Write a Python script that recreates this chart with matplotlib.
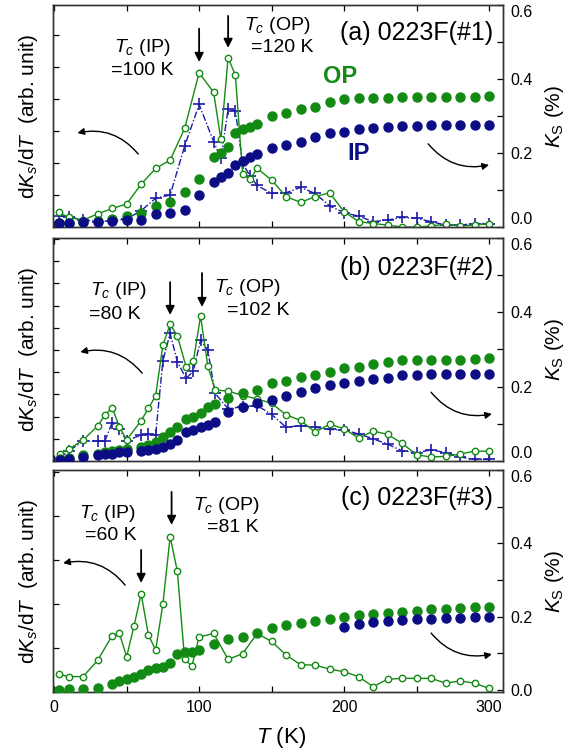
import matplotlib
matplotlib.use('Agg')
import matplotlib.pyplot as plt
from matplotlib.ticker import MultipleLocator, NullFormatter

plt.rcParams['font.family'] = ['Liberation Sans', 'DejaVu Sans']
plt.rcParams['mathtext.fontset'] = 'custom'
plt.rcParams['mathtext.rm'] = 'Liberation Sans'
plt.rcParams['mathtext.it'] = 'Liberation Sans:italic'

GREEN = '#138a13'
NAVY = '#0c0c85'
CROSS = '#1c1ca8'

# ---- panel (a) 0223F(#1) ----
T_a_d = [3, 10, 20, 30, 40, 50, 60, 70, 80, 90, 100, 110, 115, 120, 125, 130, 135, 140,
         150, 160, 170, 180, 190, 200, 210, 220, 230, 240, 250, 260, 270, 280, 290, 300]
op_a_d = [0.46, 0.3, 0.22, 0.41, 0.58, 0.72, 1.34, 1.83, 2.09, 3.08, 4.82, 4.21, 2.74, 5.29, 4.75,
          1.66, 1.49, 1.83, 1.47, 0.95, 0.77, 0.95, 1.07, 0.48, 0.17, 0.11, 0.06, 0.0, 0.0, 0.03,
          0.09, 0.03, 0.06, 0.11]
ip_a_d = [0.34, 0.32, 0.22, 0.17, 0.2, 0.25, 0.51, 0.9, 1.0, 2.53, 3.83, 2.67, 2.15, 3.68, 3.63,
          2.0, 1.6, 1.3, 1.05, 1.07, 1.24, 1.05, 0.66, 0.45, 0.34, 0.17, 0.22, 0.3, 0.27, 0.17,
          0.06, 0.06, 0.11, 0.11]
T_a_ks = T_a_d
op_a_ks = [0.012, 0.012, 0.013, 0.015, 0.022, 0.03, 0.038, 0.058, 0.067, 0.094, 0.13, 0.19, 0.2,
           0.217, 0.255, 0.265, 0.271, 0.279, 0.301, 0.309, 0.319, 0.324, 0.339, 0.346, 0.348,
           0.35, 0.35, 0.351, 0.351, 0.351, 0.351, 0.351, 0.351, 0.353]
T_a_ip = T_a_d
ip_a_ks = [0.011, 0.011, 0.013, 0.013, 0.016, 0.02, 0.02, 0.034, 0.038, 0.047, 0.087, 0.123, 0.135,
           0.146, 0.168, 0.178, 0.189, 0.197, 0.213, 0.222, 0.231, 0.244, 0.253, 0.258, 0.265,
           0.267, 0.269, 0.272, 0.274, 0.276, 0.275, 0.275, 0.275, 0.275]

# ---- panel (b) 0223F(#2) ----
T_b = [4, 10, 20, 30, 35, 40, 45, 50, 60, 65, 70, 75, 80, 85, 91, 96, 101, 106, 111, 120, 130,
       140, 150, 160, 170, 180, 190, 200, 210, 220, 230, 240, 250, 260, 270, 280, 290, 300]
op_b_d = [0.32, 0.53, 0.95, 1.58, 2.07, 2.4, 1.55, 0.95, 1.82, 2.37, 2.94, 5.23, 6.16, 5.63, 4.25,
          4.5, 6.53, 4.28, 3.2, 3.15, 2.95, 2.8, 2.6, 2.08, 1.83, 1.3, 1.66, 1.45, 1.03, 1.35, 1.2,
          0.8, 0.28, 0.18, 0.21, 0.31, 0.45, 0.44]
ip_b_d = [0.15, 0.45, 0.9, 0.9, 0.9, 1.73, 1.43, 0.92, 1.17, 1.2, 1.17, 4.52, 5.75, 4.47, 3.72,
          4.05, 5.45, 5.0, 3.05, 2.35, 2.45, 2.5, 2.1, 1.52, 1.6, 1.52, 1.42, 1.4, 1.22, 1.0,
          0.76, 0.46, 0.38, 0.5, 0.38, 0.18, 0.07, 0.07]
op_b_ks = [0.006, 0.008, 0.015, 0.019, 0.023, 0.028, 0.03, 0.032, 0.039, 0.043, 0.052, 0.065,
           0.079, 0.092, 0.112, 0.119, 0.128, 0.144, 0.153, 0.169, 0.182, 0.191, 0.209, 0.216,
           0.227, 0.231, 0.24, 0.249, 0.254, 0.26, 0.267, 0.271, 0.271, 0.271, 0.271, 0.271,
           0.275, 0.276]
ip_b_ks = [0.004, 0.005, 0.01, 0.016, 0.019, 0.02, 0.023, 0.025, 0.028, 0.03, 0.032, 0.039,
           0.046, 0.057, 0.079, 0.083, 0.091, 0.097, 0.106, 0.133, 0.145, 0.155, 0.164, 0.175,
           0.187, 0.196, 0.205, 0.209, 0.215, 0.221, 0.224, 0.231, 0.231, 0.234, 0.234, 0.234,
           0.234, 0.234]

# ---- panel (c) 0223F(#3) ----
T_c = [3, 10, 20, 30, 40, 45, 50, 55, 60, 65, 70, 75, 80, 85, 90, 95, 100, 110, 120, 130, 140,
       150, 160, 170, 180, 190, 200, 210, 220, 230, 240, 250, 260, 270, 280, 290, 300]
op_c_d = [0.4, 0.35, 0.35, 0.72, 1.28, 1.33, 0.8, 1.49, 2.23, 1.3, 0.95, 2.0, 3.53, 2.74, 0.74,
          0.59, 1.25, 1.33, 0.74, 0.87, 1.33, 1.15, 0.84, 0.62, 0.61, 0.52, 0.46, 0.35, 0.12,
          0.29, 0.31, 0.31, 0.31, 0.2, 0.25, 0.2, 0.08]
op_c_ks = [0.0, 0.002, 0.003, 0.005, 0.016, 0.024, 0.029, 0.036, 0.045, 0.055, 0.059, 0.064,
           0.075, 0.098, 0.103, 0.105, 0.109, 0.125, 0.138, 0.144, 0.155, 0.168, 0.177, 0.184,
           0.189, 0.194, 0.2, 0.204, 0.207, 0.209, 0.214, 0.216, 0.22, 0.222, 0.223, 0.226, 0.227]
T_c_ip = [200, 210, 220, 230, 240, 250, 260, 270, 280, 290, 300]
ip_c_ks = [0.173, 0.179, 0.185, 0.188, 0.191, 0.193, 0.195, 0.197, 0.197, 0.198, 0.199]

ks_ticks = [0.0, 0.2, 0.4, 0.6]
ks_ticklabels = ['0.0', '0.2', '0.4', '0.6']


fig = plt.figure(figsize=(5.84, 7.56), dpi=100)
L, W = 0.091, 0.7705
ax_a = fig.add_axes([L, 0.6997, W, 0.2937])
ax_b = fig.add_axes([L, 0.3902, W, 0.2950])
ax_c = fig.add_axes([L, 0.0847, W, 0.2937])


def style_axes(ax, ax2, ytop, kslim, bottom_labels, lift_zero):
    ax.set_xlim(-0.7, 309.7)
    ax.set_ylim(0, ytop)
    ax2.set_ylim(*kslim)
    ax.xaxis.set_major_locator(MultipleLocator(100))
    ax.xaxis.set_minor_locator(MultipleLocator(50))
    ax.yaxis.set_major_locator(MultipleLocator(1))
    ax.yaxis.set_major_formatter(NullFormatter())
    ax.tick_params(axis='x', which='both', direction='in', top=True, bottom=True,
                   length=4, width=0.9, labelsize=11.5, pad=6, labelbottom=bottom_labels)
    ax.tick_params(axis='y', which='both', direction='in', left=True, right=False,
                   length=4, width=0.9)
    ax2.set_yticks(ks_ticks)
    ax2.set_yticklabels(ks_ticklabels)
    ax2.yaxis.set_minor_locator(MultipleLocator(0.1))
    ax2.tick_params(axis='y', which='both', direction='in', length=4, width=0.9,
                    labelsize=11.5, pad=5)
    labels = ax2.get_yticklabels()
    labels[-1].set_va('top')
    if lift_zero:
        labels[0].set_va('bottom')
    for a in (ax, ax2):
        for s in a.spines.values():
            s.set_color('#333333')
            s.set_linewidth(1.0)
    ax.set_ylabel('d$K_s$/d$T$  (arb. unit)', fontsize=15)
    ax.yaxis.set_label_coords(-0.03, 0.5)
    ax2.set_ylabel('$K_\\mathrm{S}$ (%)', fontsize=15)
    ax2.yaxis.set_label_coords(1.088, 0.5)


def curve_arrow(ax, start, end):
    ax.annotate('', xy=end, xytext=start,
                arrowprops=dict(arrowstyle='-|>', connectionstyle='arc3,rad=0.3',
                                color='black', lw=1.0, mutation_scale=10,
                                shrinkA=0, shrinkB=0))


def tc_arrow(ax, T, ytop, ytip):
    ax.annotate('', xy=(T, ytip), xytext=(T, ytop),
                arrowprops=dict(arrowstyle='-|>', color='black', lw=1.3,
                                mutation_scale=13, shrinkA=0, shrinkB=0))


def ks_points(ax2, T, vals, color):
    ax2.plot(T, vals, 'o', ms=6.5, color=color, mec=color, zorder=3)


def deriv_op(ax, T, vals):
    ax.plot(T, vals, '-o', color=GREEN, lw=1.0, ms=4.6, mfc='white', mec=GREEN, mew=1.0)


def deriv_ip(ax, T, vals):
    ax.plot(T, vals, '+', color=CROSS, ls=(0, (5, 1.5, 1, 1.5)), lw=1.0, ms=8, mew=1.2)


TC_FS = 14

# panel (a)
ax2_a = ax_a.twinx()
deriv_ip(ax_a, T_a_d, ip_a_d)
deriv_op(ax_a, T_a_d, op_a_d)
ks_points(ax2_a, T_a_ks, op_a_ks, GREEN)
ks_points(ax2_a, T_a_ip, ip_a_ks, NAVY)
style_axes(ax_a, ax2_a, 6.94, (0, 0.6), False, True)
tc_arrow(ax_a, 100, 6.2, 5.16)
tc_arrow(ax_a, 120, 6.6, 5.6)
ax_a.text(61, 5.6, '$T_c$ (IP)', ha='center', va='center', fontsize=TC_FS)
ax_a.text(61, 4.88, '=100 K', ha='center', va='center', fontsize=TC_FS)
ax_a.text(154, 6.3, '$T_c$ (OP)', ha='center', va='center', fontsize=TC_FS)
ax_a.text(157, 5.6, '=120 K', ha='center', va='center', fontsize=TC_FS)
ax_a.text(0.978, 0.874, '(a) 0223F(#1)', transform=ax_a.transAxes, ha='right', va='center', fontsize=18)
ax_a.text(0.638, 0.676, 'OP', transform=ax_a.transAxes, ha='center', va='center',
          fontsize=17, fontweight='bold', color=GREEN)
ax_a.text(0.678, 0.333, 'IP', transform=ax_a.transAxes, ha='center', va='center',
          fontsize=17, fontweight='bold', color=NAVY)
curve_arrow(ax_a, (58, 2.28), (16, 2.94))
curve_arrow(ax_a, (258, 2.6), (300, 1.94))

# panel (b)
ax2_b = ax_b.twinx()
deriv_ip(ax_b, T_b, ip_b_d)
deriv_op(ax_b, T_b, op_b_d)
ks_points(ax2_b, T_b, op_b_ks, GREEN)
ks_points(ax2_b, T_b, ip_b_ks, NAVY)
style_axes(ax_b, ax2_b, 10.05, (0, 0.6), False, True)
tc_arrow(ax_b, 80, 8.06, 6.58)
tc_arrow(ax_b, 102, 8.47, 6.94)
ax_b.text(44, 7.7, '$T_c$ (IP)', ha='center', va='center', fontsize=TC_FS)
ax_b.text(42, 6.58, '=80 K', ha='center', va='center', fontsize=TC_FS)
ax_b.text(133, 7.84, '$T_c$ (OP)', ha='center', va='center', fontsize=TC_FS)
ax_b.text(141, 6.8, '=102 K', ha='center', va='center', fontsize=TC_FS)
ax_b.text(0.978, 0.865, '(b) 0223F(#2)', transform=ax_b.transAxes, ha='right', va='center', fontsize=18)
curve_arrow(ax_b, (60.7, 3.96), (18, 4.91))
curve_arrow(ax_b, (260, 3.1), (302, 2.12))

# panel (c)
ax2_c = ax_c.twinx()
deriv_op(ax_c, T_c, op_c_d)
ks_points(ax2_c, T_c, op_c_ks, GREEN)
ks_points(ax2_c, T_c_ip, ip_c_ks, NAVY)
style_axes(ax_c, ax2_c, 5.05, (-0.005, 0.6), True, False)
tc_arrow(ax_c, 60, 3.23, 2.48)
tc_arrow(ax_c, 81, 4.55, 3.8)
ax_c.text(36.7, 4.07, '$T_c$ (IP)', ha='center', va='center', fontsize=TC_FS)
ax_c.text(39, 3.57, '=60 K', ha='center', va='center', fontsize=TC_FS)
ax_c.text(119, 4.25, '$T_c$ (OP)', ha='center', va='center', fontsize=TC_FS)
ax_c.text(123, 3.73, '=81 K', ha='center', va='center', fontsize=TC_FS)
ax_c.text(0.978, 0.874, '(c) 0223F(#3)', transform=ax_c.transAxes, ha='right', va='center', fontsize=18)
curve_arrow(ax_c, (49, 2.43), (6.2, 2.93))
curve_arrow(ax_c, (260, 1.34), (302, 0.86))

fig.text(0.481, 1 - 737 / 756, '$T$ (K)', ha='center', va='center', fontsize=16)

fig.savefig('out.png', dpi=100)
